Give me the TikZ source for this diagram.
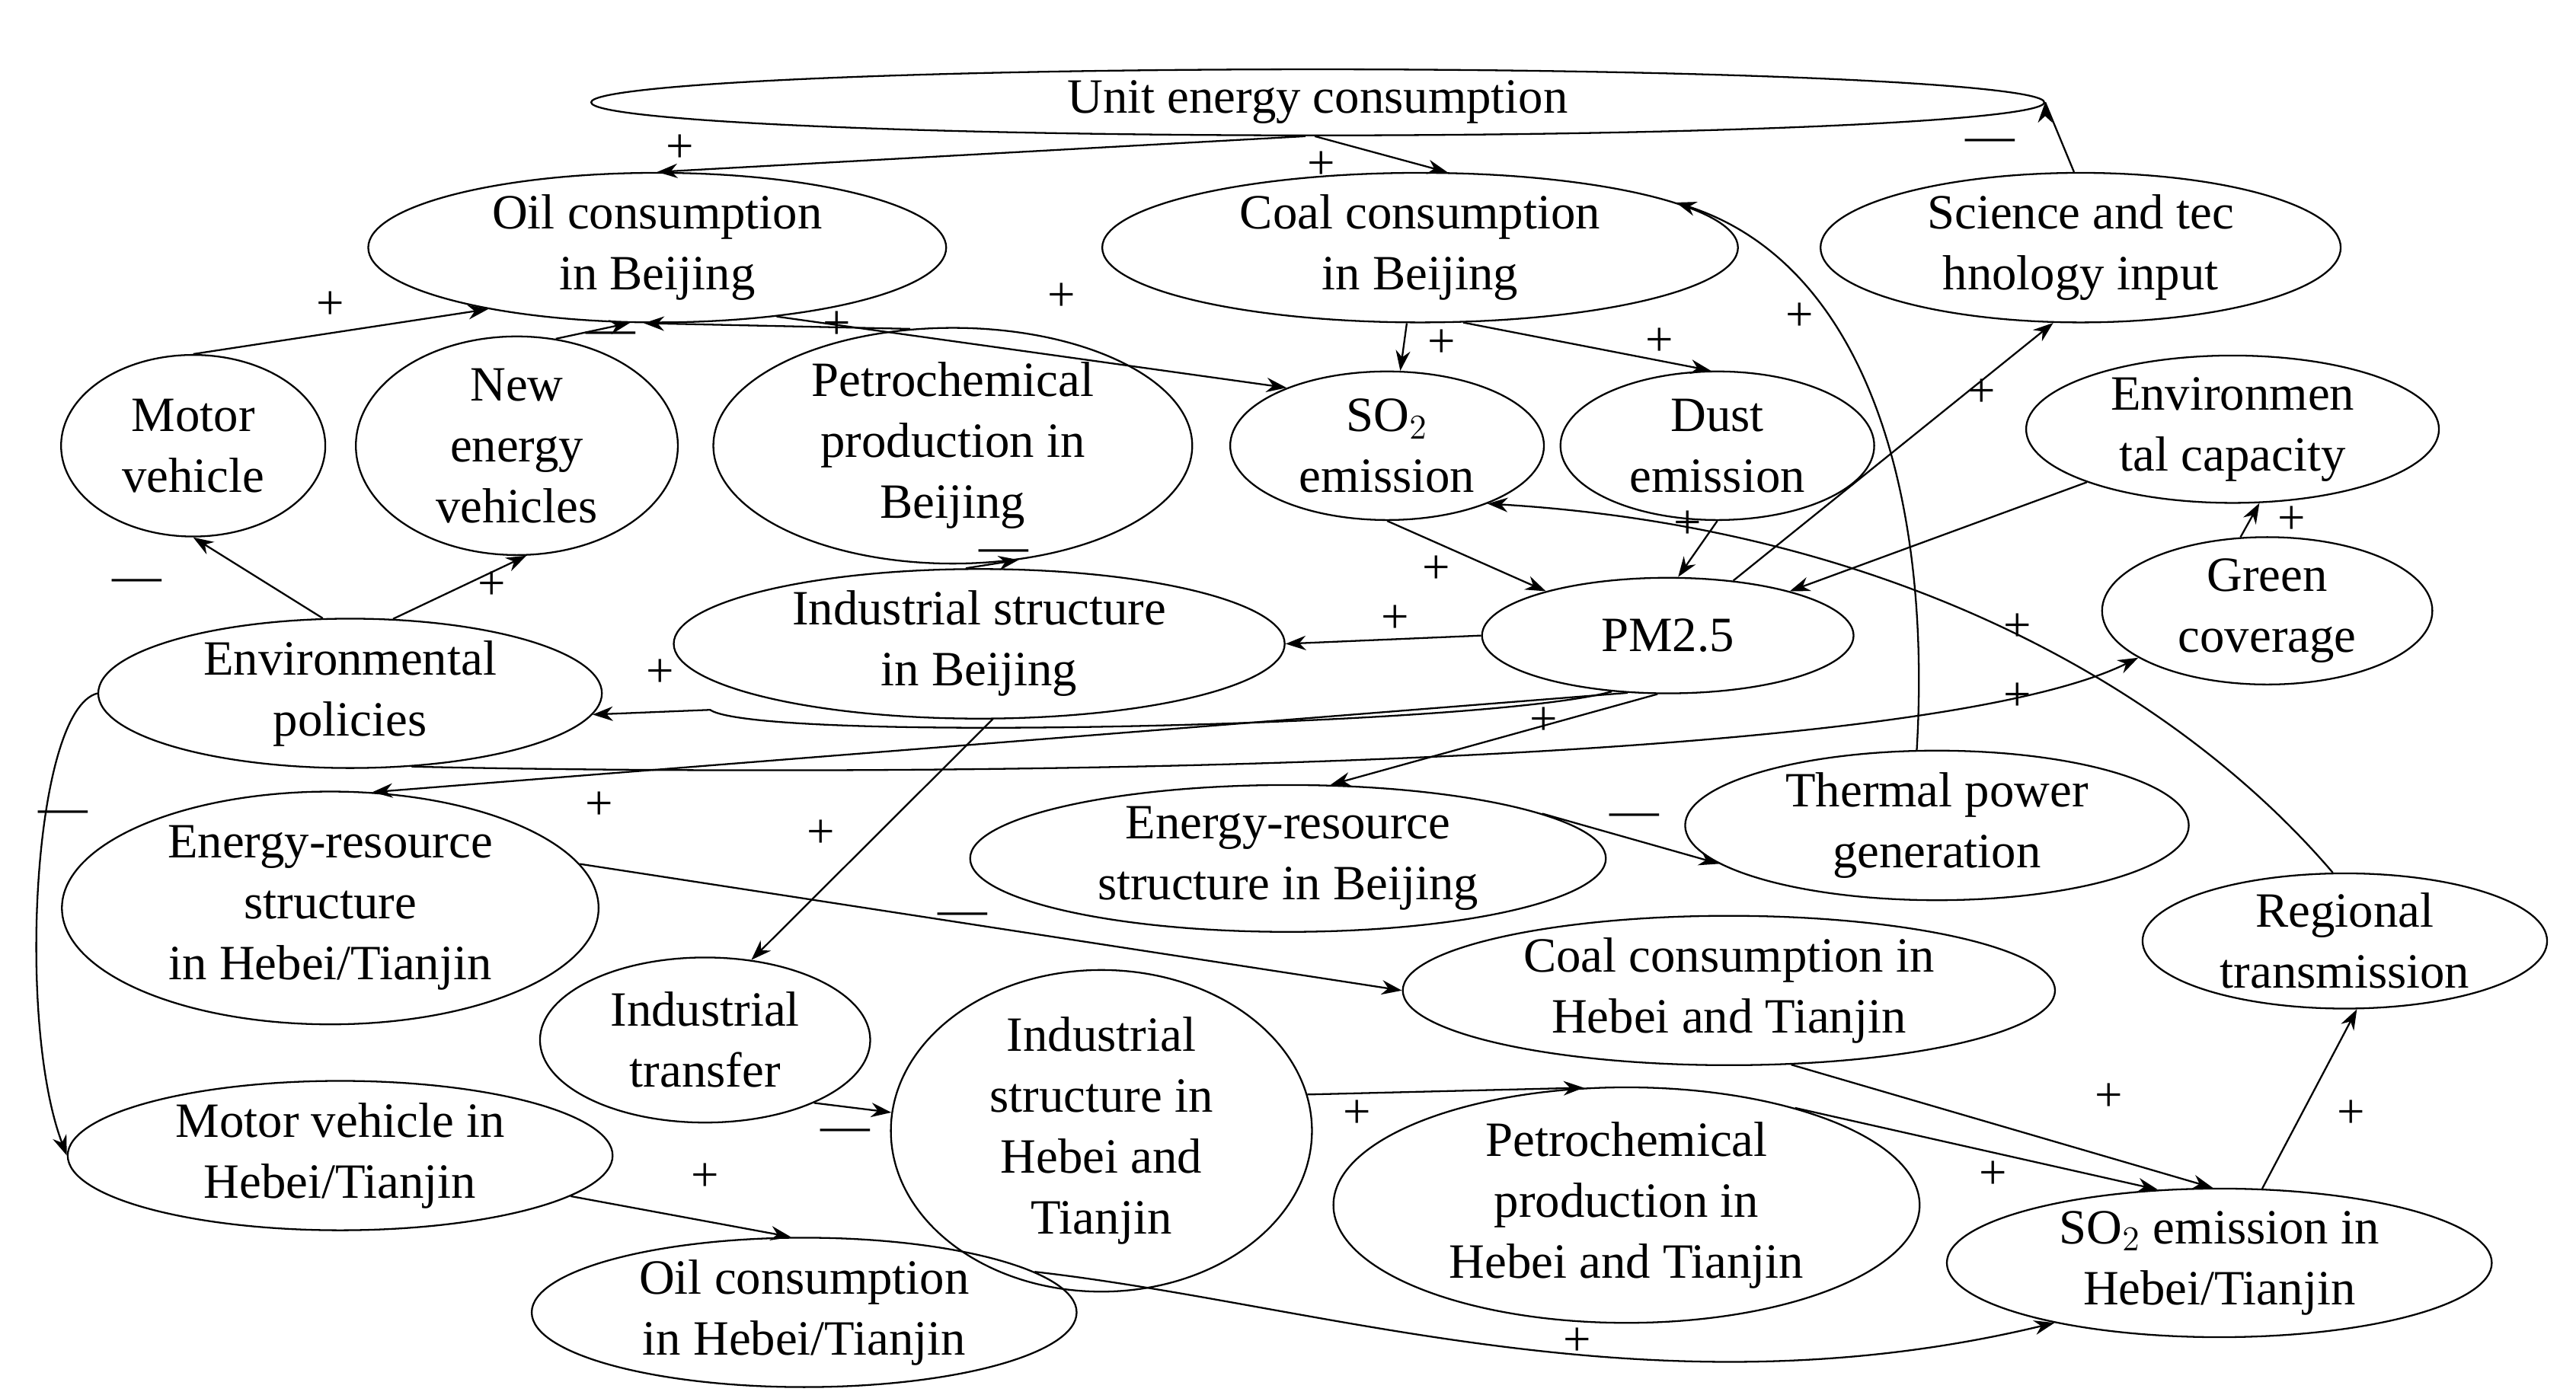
\documentclass[tikz,border=0pt]{standalone}
\usepackage{fontspec}
\setmainfont{Liberation Serif}
\usetikzlibrary{shapes.geometric,arrows.meta}
\tikzset{
  var/.style={draw, ellipse, inner sep=0pt, align=center, line width=0.6pt},
  link/.style={-{Stealth[length=7pt,width=5pt]}, line width=0.6pt},
  sgn/.style={inner sep=0pt}
}
% Macro for one variable: name, x, y, width, height, text (pixel units)
\newcommand{\loopVar}[6]{
  \node[var, minimum width=#4*0.02cm, minimum height=#5*0.02cm] (#1) at (#2,#3) {#6};
}
\begin{document}
\begin{tikzpicture}[x=0.02cm, y=-0.02cm, font=\fontsize{17}{21}\selectfont]
\useasboundingbox (0,0) rectangle (1560,845);

% Variables
\loopVar{unit}{798}{62}{880}{40}{Unit energy consumption}
\loopVar{oilB}{398}{150}{350}{75}{Oil consumption\\in Beijing}
\loopVar{coalB}{860}{150}{385}{75}{Coal consumption\\in Beijing}
\loopVar{sci}{1260}{150}{315}{75}{Science and tec\\hnology input}
\loopVar{motor}{117}{270}{160}{110}{Motor\\vehicle}
\loopVar{newE}{313}{270}{195}{110}{New\\energy\\vehicles}
\loopVar{petroB}{577}{270}{290}{110}{Petrochemical\\production in\\Beijing}
\loopVar{so2}{840}{270}{190}{90}{SO$_2$\\emission}
\loopVar{dust}{1040}{270}{190}{90}{Dust\\emission}
\loopVar{envcap}{1352}{260}{250}{80}{Environmen\\tal capacity}
\loopVar{green}{1373}{370}{200}{80}{Green\\coverage}
\loopVar{indB}{593}{390}{370}{75}{Industrial structure\\in Beijing}
\loopVar{pm}{1010}{385}{225}{70}{PM2.5}
\loopVar{envpol}{212}{420}{305}{85}{Environmental\\policies}
\loopVar{energyHT}{200}{550}{325}{110}{Energy-resource\\structure\\in Hebei/Tianjin}
\loopVar{energyB}{780}{520}{385}{75}{Energy-resource\\structure in Beijing}
\loopVar{thermal}{1173}{500}{305}{75}{Thermal power\\generation}
\loopVar{regional}{1420}{570}{245}{75}{Regional\\transmission}
\loopVar{indTrans}{427}{630}{200}{100}{Industrial\\transfer}
\loopVar{coalHT}{1047}{600}{395}{75}{Coal consumption in\\Hebei and Tianjin}
\loopVar{indHT}{667}{685}{255}{165}{Industrial\\structure in\\Hebei and\\Tianjin}
\loopVar{petroHT}{985}{730}{355}{120}{Petrochemical\\production in\\Hebei and Tianjin}
\loopVar{motorHT}{206}{700}{330}{70}{Motor vehicle in\\Hebei/Tianjin}
\loopVar{so2HT}{1344}{765}{330}{90}{SO$_2$ emission in\\Hebei/Tianjin}
\loopVar{oilHT}{487}{795}{330}{75}{Oil consumption\\in Hebei/Tianjin}

% Links
\draw[link] (unit.250) -- (oilB.90);
\draw[link] (unit.265) -- (coalB.70);
\draw[link] (sci.95) -- (unit.east) ++(0,0);
\draw[link] (motor.90) -- (oilB.200);
\draw[link] (newE.70) -- (oilB.250);
\draw[link] (petroB.110) -- (oilB.260);
\draw[link] (oilB.330) -- (so2.150);
\draw[link] (coalB.260) -- (so2.80);
\draw[link] (coalB.300) -- (dust.95);
\draw[link] (so2.270) -- (pm.160);
\draw[link] (dust.270) -- (pm.80);
\draw[link] (pm.40) -- (sci.250);
\draw[link] (envcap.200) -- (pm.20);
\draw[link] (green.110) -- (envcap.290);
\draw[link] (pm.180) -- (indB.0);
\draw[link] (indB.100) -- (petroB.300);
\draw[link] (envpol.110) -- (motor.270);
\draw[link] (envpol.60) -- (newE.275);
\draw[link] (pm.225) .. controls (900,440) and (460,450) .. (430,430) -- (envpol.355);
\draw[link] (envpol.310) .. controls (500,470) and (1150,470) .. (green.200);
\draw[link] (pm.235) -- (energyHT.70);
\draw[link] (pm.260) -- (energyB.60);
\draw[link] (energyB.10) -- (thermal.190);
\draw[link] (thermal.105) .. controls (1170,300) and (1130,160) .. (coalB.10);
\draw[link] (regional.100) .. controls (1320,420) and (1150,320) .. (so2.330);
\draw[link] (indB.280) -- (indTrans.60);
\draw[link] (indTrans.330) -- (indHT.175);
\draw[link] (energyHT.10) -- (coalHT.180);
\draw[link] (envpol.180) .. controls (20,430) and (10,620) .. (motorHT.180);
\draw[link] (motorHT.350) -- (oilHT.100);
\draw[link] (indHT.10) -- (petroHT.110);
\draw[link] (coalHT.310) -- (so2HT.95);
\draw[link] (petroHT.30) -- (so2HT.130);
\draw[link] (oilHT.10) .. controls (800,790) and (1000,860) .. (so2HT.200);
\draw[link] (so2HT.60) -- (regional.280);

% Signs
\node[sgn] (s1) at (412,90) {+};
\node[sgn] (s2) at (800,100) {+};
\node[sgn] (s3) at (1205,88) {—};
\node[sgn] (s4) at (200,185) {+};
\node[sgn] (s5) at (370,205) {—};
\node[sgn] (s6) at (507,197) {+};
\node[sgn] (s7) at (643,180) {+};
\node[sgn] (s8) at (873,208) {+};
\node[sgn] (s9) at (1005,207) {+};
\node[sgn] (s10) at (1090,192) {+};
\node[sgn] (s11) at (1200,238) {+};
\node[sgn] (s12) at (1388,315) {+};
\node[sgn] (s13) at (1022,318) {+};
\node[sgn] (s14) at (870,345) {+};
\node[sgn] (s15) at (608,337) {—};
\node[sgn] (s16) at (845,375) {+};
\node[sgn] (s17) at (83,355) {—};
\node[sgn] (s18) at (298,355) {+};
\node[sgn] (s19) at (400,408) {+};
\node[sgn] (s20) at (1222,380) {+};
\node[sgn] (s21) at (1222,422) {+};
\node[sgn] (s22) at (935,437) {+};
\node[sgn] (s23) at (363,488) {+};
\node[sgn] (s24) at (38,495) {—};
\node[sgn] (s25) at (497,505) {+};
\node[sgn] (s26) at (990,497) {—};
\node[sgn] (s27) at (583,557) {—};
\node[sgn] (s28) at (512,688) {—};
\node[sgn] (s29) at (822,675) {+};
\node[sgn] (s30) at (1277,665) {+};
\node[sgn] (s31) at (1207,712) {+};
\node[sgn] (s32) at (1424,675) {+};
\node[sgn] (s33) at (427,713) {+};
\node[sgn] (s34) at (955,813) {+};
\end{tikzpicture}
\end{document}
